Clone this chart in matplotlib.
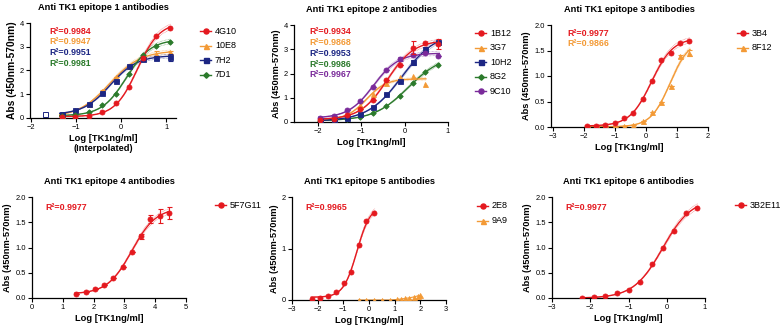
import numpy as np
import matplotlib
matplotlib.use("Agg")
import matplotlib.pyplot as plt
from matplotlib.lines import Line2D

plt.rcParams['font.family'] = ['Liberation Sans', 'DejaVu Sans']

W, H = 782, 331

# ---------------- data ----------------
# Panel 1: epitope 1
p1_x = [-1.32, -1.02, -0.72, -0.42, -0.12, 0.18, 0.48, 0.78, 1.08]
g4G10 = [0.03, 0.05, 0.10, 0.26, 0.62, 1.30, 2.53, 3.46, 3.78]
g10E8 = [0.13, 0.34, 0.60, 1.13, 1.74, 2.17, 2.58, 2.70, 2.76]
g7H2 = [0.16, 0.34, 0.57, 1.07, 1.55, 2.17, 2.50, 2.54, 2.55]
g7D1 = [0.07, 0.14, 0.25, 0.53, 1.00, 1.87, 2.67, 3.05, 3.20]
g7H2_outlier_x = [-1.68]
g7H2_outlier_y = [0.15]
err_10E8 = [0, 0, 0, 0.05, 0, 0, 0, 0.10, 0.08]
err_7H2 = [0, 0, 0, 0, 0, 0, 0, 0.08, 0.14]

# Panel 2: epitope 2
p2_x = [-1.94, -1.63, -1.33, -1.03, -0.72, -0.42, -0.11, 0.19, 0.47, 0.78]
g1B12 = [0.10, 0.14, 0.28, 0.55, 0.92, 1.72, 2.34, 3.07, 3.24, 3.22]
g3G7 = [0.08, 0.13, 0.34, 0.69, 1.17, 1.59, 1.86, 1.89, 1.55]
g10H2 = [0.07, 0.10, 0.17, 0.32, 0.62, 1.14, 1.68, 2.46, 2.99, 3.30]
g8G2 = [0.05, 0.10, 0.13, 0.20, 0.38, 0.66, 1.07, 1.61, 2.07, 2.37]
g9C10 = [0.17, 0.25, 0.50, 0.87, 1.45, 2.16, 2.58, 2.76, 2.85, 2.72]
err_1B12 = [0, 0, 0, 0, 0, 0, 0, 0.25, 0, 0.20]
err_10H2 = [0, 0, 0, 0, 0, 0, 0, 0.10, 0.10, 0]
err_9C10 = [0, 0, 0, 0, 0, 0, 0.08, 0, 0, 0]

# Panel 3: epitope 3
p3_x = [-1.9, -1.6, -1.3, -1.0, -0.7, -0.4, -0.1, 0.2, 0.5, 0.8, 1.1, 1.4]
g3B4 = [0.02, 0.02, 0.04, 0.08, 0.17, 0.28, 0.54, 0.90, 1.31, 1.45, 1.65, 1.69]
g8F12 = [0.0, 0.0, 0.0, 0.0, 0.01, 0.03, 0.11, 0.29, 0.49, 0.80, 1.39, 1.45]
err_8F12 = [0, 0, 0, 0, 0, 0, 0, 0, 0, 0, 0.03, 0.06]

# Panel 4: epitope 4
p4_x = [1.44, 1.74, 2.04, 2.34, 2.64, 2.94, 3.24, 3.54, 3.84, 4.14, 4.44]
g5F7G11 = [0.08, 0.11, 0.17, 0.25, 0.40, 0.62, 0.91, 1.22, 1.56, 1.62, 1.68]
err_5F7G11 = [0, 0, 0, 0, 0, 0, 0, 0.05, 0.08, 0.14, 0.12]

# Panel 5: epitope 5
p5_x = [-2.21, -1.90, -1.60, -1.30, -0.99, -0.69, -0.39, -0.10, 0.21]
g2E8 = [0.02, 0.04, 0.08, 0.16, 0.33, 0.54, 1.07, 1.54, 1.68]
p5_x_9A9 = [-0.40, -0.10, 0.20, 0.50, 0.80, 1.10, 1.25, 1.40, 1.55, 1.75, 1.90, 2.00]
g9A9 = [0.0, 0.0, 0.0, 0.0, 0.0, 0.01, 0.02, 0.03, 0.04, 0.06, 0.08, 0.09]

# Panel 6: epitope 6
p6_x = [-2.21, -1.90, -1.62, -1.31, -1.00, -0.70, -0.39, -0.10, 0.19, 0.50, 0.79]
g3B2E11 = [0.0, 0.01, 0.03, 0.09, 0.16, 0.32, 0.67, 1.00, 1.32, 1.69, 1.78]

RED = '#E4191F'
ORANGE = '#F39A36'
BLUE = '#1C2683'
GREEN = '#2B7A2B'
PURPLE = '#7A2A9A'

# ---------------- helpers ----------------
def fit4pl(x, y):
    x = np.asarray(x, float)
    y = np.asarray(y, float)
    hs = np.arange(0.3, 4.01, 0.05)
    cs = np.arange(x.min() - 1.0, x.max() + 1.0, 0.02)
    Hh, Cc = np.meshgrid(hs, cs, indexing='ij')
    Hh = Hh.ravel()[:, None]
    Cc = Cc.ravel()[:, None]
    s = 1.0 / (1.0 + 10 ** ((Cc - x[None, :]) * Hh))
    a = 1 - s
    Saa = (a * a).sum(1); Sbb = (s * s).sum(1); Sab = (a * s).sum(1)
    Say = (a * y).sum(1); Sby = (s * y).sum(1)
    det = Saa * Sbb - Sab ** 2
    det[np.abs(det) < 1e-12] = np.nan
    bot = (Sbb * Say - Sab * Sby) / det
    top = (Saa * Sby - Sab * Say) / det
    pred = bot[:, None] * a + top[:, None] * s
    sse = ((pred - y) ** 2).sum(1)
    sse = np.where(np.isnan(sse), np.inf, sse)
    i = int(np.argmin(sse))
    return bot[i], top[i], Cc[i, 0], Hh[i, 0]


def curve(ax, x, y, color, lw=1.0):
    b, t, c, h = fit4pl(x, y)
    xs = np.linspace(min(x) - 0.04, max(x) + 0.02, 200)
    ys = b + (t - b) / (1 + 10 ** ((c - xs) * h))
    ax.plot(xs, ys, color=color, lw=lw, zorder=2)
    # dotted confidence-like band
    ax.plot(xs, ys * 1.03, color=color, lw=0.5, ls=(0, (1, 1)), alpha=0.6, zorder=1)
    ax.plot(xs, ys * 0.97, color=color, lw=0.5, ls=(0, (1, 1)), alpha=0.6, zorder=1)


def msize(mk):
    return 2.8 if mk == 'D' else 3.6


def points(ax, x, y, color, marker, yerr=None):
    ax.plot(x, y, ls='none', marker=marker, color=color, ms=msize(marker), zorder=3,
            markeredgewidth=0.6)
    if yerr is not None:
        ax.errorbar(x, y, yerr=yerr, fmt='none', ecolor=color, elinewidth=0.8,
                    capsize=1.8, capthick=0.8, zorder=3)


def make_ax(left, right, top, bottom):
    ax = fig.add_axes([left / W, 1 - bottom / H, (right - left) / W, (bottom - top) / H])
    for s in ('top', 'right'):
        ax.spines[s].set_visible(False)
    for s in ('left', 'bottom'):
        ax.spines[s].set_linewidth(0.9)
    ax.tick_params(direction='out', length=3, width=0.8, labelsize=5.4, pad=1.5)
    ax.patch.set_alpha(0)
    return ax


def style_labels(ax, title, xlabel, ylabel_size=6.7):
    ax.set_title(title, fontsize=6.7, fontweight='bold', pad=9)
    ax.set_xlabel(xlabel, fontsize=6.7, fontweight='bold', labelpad=2)
    ax.set_ylabel('Abs (450nm-570nm)', fontsize=ylabel_size, fontweight='bold', labelpad=2)


def r2_texts(x, y0, items, dy=10.7):
    for k, (txt, col) in enumerate(items):
        fig.text(x / W, 1 - (y0 + k * dy) / H, txt, color=col, fontsize=6.4,
                 fontweight='bold', va='center', ha='left')


def legend(x, y, items, dy=14.6):
    for k, (lab, col, mk) in enumerate(items):
        yy = 1 - (y + k * dy) / H
        fig.add_artist(Line2D([x / W, (x + 11) / W], [yy, yy], color=col, lw=1.0))
        fig.add_artist(Line2D([(x + 5.5) / W], [yy], color=col, marker=mk,
                              ms=msize(mk), ls='none'))
        fig.text((x + 15) / W, yy, lab, fontsize=6.5, va='center', ha='left')


fig = plt.figure(figsize=(W / 100, H / 100), dpi=100)

# ---------- Panel 1 ----------
ax1 = make_ax(30, 176, 23, 118)
ax1.set_xlim(-2.02, 1.22); ax1.set_ylim(0, 4)
ax1.set_xticks([-2, -1, 0, 1]); ax1.set_yticks([0, 1, 2, 3, 4])
for y, col, mk, e in [(g10E8, ORANGE, '^', err_10E8), (g7H2, BLUE, 's', err_7H2),
                      (g7D1, GREEN, 'D', None), (g4G10, RED, 'o', None)]:
    curve(ax1, p1_x, y, col)
    points(ax1, p1_x, y, col, mk, yerr=e)
ax1.plot(g7H2_outlier_x, g7H2_outlier_y, ls='none', marker='s', mfc='white', mec=BLUE,
         ms=3.6, markeredgewidth=0.7)
style_labels(ax1, 'Anti TK1 epitope 1 antibodies', 'Log [TK1ng/ml]\n(Interpolated)', ylabel_size=7.4)
r2_texts(49, 31, [('R²=0.9984', RED), ('R²=0.9947', ORANGE), ('R²=0.9951', BLUE), ('R²=0.9981', GREEN)])
legend(200, 31, [('4G10', RED, 'o'), ('10E8', ORANGE, '^'), ('7H2', BLUE, 's'), ('7D1', GREEN, 'D')])

# ---------- Panel 2 ----------
ax2 = make_ax(294, 448, 25, 122)
ax2.set_xlim(-2.55, 1.0); ax2.set_ylim(0, 4)
ax2.set_xticks([-2, -1, 0, 1]); ax2.set_yticks([0, 1, 2, 3, 4])
series2 = [(p2_x, g8G2, GREEN, 'D', None), (p2_x[:len(g3G7)], g3G7, ORANGE, '^', None),
           (p2_x, g10H2, BLUE, 's', err_10H2), (p2_x, g9C10, PURPLE, 'o', err_9C10),
           (p2_x, g1B12, RED, 'o', err_1B12)]
for xx, y, col, mk, e in series2:
    curve(ax2, xx, y, col)
    points(ax2, xx, y, col, mk, yerr=e)
style_labels(ax2, 'Anti TK1 epitope 2 antibodies', 'Log [TK1ng/ml]')
r2_texts(309, 32, [('R²=0.9934', RED), ('R²=0.9868', ORANGE), ('R²=0.9953', BLUE),
                   ('R²=0.9986', GREEN), ('R²=0.9967', PURPLE)])
legend(475, 33, [('1B12', RED, 'o'), ('3G7', ORANGE, '^'), ('10H2', BLUE, 's'),
                 ('8G2', GREEN, 'D'), ('9C10', PURPLE, 'o')])

# ---------- Panel 3 ----------
ax3 = make_ax(551, 708, 25, 127)
ax3.set_xlim(-3.05, 2.0); ax3.set_ylim(0, 2)
ax3.set_xticks([-3, -2, -1, 0, 1, 2]); ax3.set_yticks([0, 0.5, 1.0, 1.5, 2.0])
ax3.set_yticklabels(['0.0', '0.5', '1.0', '1.5', '2.0'])
curve(ax3, p3_x, g8F12, ORANGE)
points(ax3, p3_x, g8F12, ORANGE, '^', yerr=err_8F12)
curve(ax3, p3_x, g3B4, RED)
points(ax3, p3_x, g3B4, RED, 'o')
style_labels(ax3, 'Anti TK1 epitope 3 antibodies', 'Log [TK1ng/ml]')
r2_texts(567, 33, [('R²=0.9977', RED), ('R²=0.9866', ORANGE)])
legend(737, 33, [('3B4', RED, 'o'), ('8F12', ORANGE, '^')])

# ---------- Panel 4 ----------
ax4 = make_ax(32, 186, 197, 298)
ax4.set_xlim(0, 5); ax4.set_ylim(0, 2)
ax4.set_xticks([0, 1, 2, 3, 4, 5]); ax4.set_yticks([0, 0.5, 1.0, 1.5, 2.0])
ax4.set_yticklabels(['0.0', '0.5', '1.0', '1.5', '2.0'])
curve(ax4, p4_x, g5F7G11, RED)
points(ax4, p4_x, g5F7G11, RED, 'o', yerr=err_5F7G11)
style_labels(ax4, 'Anti TK1 epitope 4 antibodies', 'Log [TK1ng/ml]')
r2_texts(45, 207, [('R²=0.9977', RED)])
legend(215, 205, [('5F7G11', RED, 'o')])

# ---------- Panel 5 ----------
ax5 = make_ax(292, 446, 197, 300)
ax5.set_xlim(-3, 3); ax5.set_ylim(0, 2)
ax5.set_xticks([-3, -2, -1, 0, 1, 2, 3]); ax5.set_yticks([0, 1, 2])
curve(ax5, p5_x, g2E8, RED)
points(ax5, p5_x, g2E8, RED, 'o')
ax5.plot(p5_x_9A9, g9A9, color=ORANGE, lw=0.8, zorder=2)
points(ax5, p5_x_9A9, g9A9, ORANGE, '^')
style_labels(ax5, 'Anti TK1 epitope 5 antibodies', 'Log [TK1ng/ml]')
r2_texts(305, 207, [('R²=0.9965', RED)])
legend(477, 206, [('2E8', RED, 'o'), ('9A9', ORANGE, '^')])

# ---------- Panel 6 ----------
ax6 = make_ax(552, 705, 197, 298)
ax6.set_xlim(-3, 1); ax6.set_ylim(0, 2)
ax6.set_xticks([-3, -2, -1, 0, 1]); ax6.set_yticks([0, 0.5, 1.0, 1.5, 2.0])
ax6.set_yticklabels(['0.0', '0.5', '1.0', '1.5', '2.0'])
curve(ax6, p6_x, g3B2E11, RED)
points(ax6, p6_x, g3B2E11, RED, 'o')
style_labels(ax6, 'Anti TK1 epitope 6 antibodies', 'Log [TK1ng/ml]')
r2_texts(565, 207, [('R²=0.9977', RED)])
legend(735, 205, [('3B2E11', RED, 'o')])

for ax in (ax1, ax2, ax3, ax4, ax5, ax6):
    for lab in ax.get_xticklabels() + ax.get_yticklabels():
        lab.set_fontsize(5.4)

fig.savefig('out.png', dpi=100)
